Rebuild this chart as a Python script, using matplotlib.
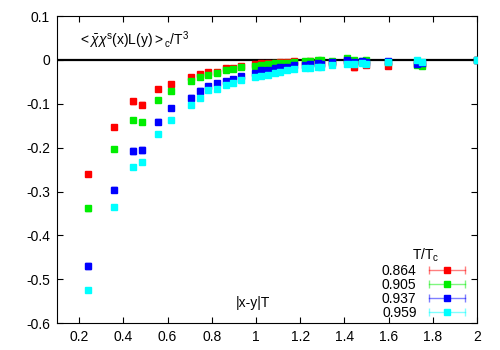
import numpy as np
import matplotlib
matplotlib.use('Agg')
import matplotlib.pyplot as plt
from matplotlib.lines import Line2D
from matplotlib.legend_handler import HandlerLine2D, HandlerTuple

plt.rcParams['font.family'] = ['Liberation Sans', 'DejaVu Sans']
plt.rcParams['mathtext.fontset'] = 'custom'
plt.rcParams['mathtext.rm'] = 'Liberation Sans'
plt.rcParams['mathtext.it'] = 'Liberation Sans:italic'

# distances |x-y|T
dist = [0.24, 0.357, 0.446, 0.484, 0.555, 0.617, 0.705, 0.746, 0.785, 0.826,
        0.865, 0.897, 0.934, 0.995, 1.025, 1.054, 1.084, 1.111, 1.141, 1.17,
        1.22, 1.246, 1.281, 1.293, 1.342, 1.413, 1.445, 1.48, 1.497, 1.599,
        1.73, 1.75, 2.0]

temps = ['0.864', '0.905', '0.937', '0.959']

corr_864 = [-0.260, -0.152, -0.094, -0.102, -0.067, -0.055, -0.038, -0.032, -0.027, -0.027,
            -0.019, -0.018, -0.013, -0.010, -0.008, -0.007, -0.006, -0.005, -0.004, -0.003,
            -0.004, -0.003, -0.008, -0.006, -0.007, -0.002, -0.017, -0.005, -0.012, -0.013,
            -0.008, -0.010, 0.0]
corr_905 = [-0.338, -0.202, -0.138, -0.142, -0.092, -0.070, -0.049, -0.039, -0.034, -0.030,
            -0.023, -0.021, -0.017, -0.014, -0.011, -0.009, -0.008, -0.006, -0.006, -0.004,
            -0.002, -0.002, 0.001, 0.0, -0.002, 0.004, 0.0, -0.002, -0.001, -0.004,
            -0.011, -0.013, 0.0]
corr_937 = [-0.470, -0.296, -0.208, -0.205, -0.141, -0.110, -0.086, -0.070, -0.059, -0.053,
            -0.048, -0.044, -0.036, -0.030, -0.024, -0.024, -0.019, -0.017, -0.015, -0.011,
            -0.011, -0.009, -0.008, -0.009, -0.004, 0.0, -0.004, -0.003, -0.004, -0.003,
            -0.009, -0.008, 0.0]
corr_959 = [-0.524, -0.336, -0.245, -0.233, -0.170, -0.136, -0.102, -0.087, -0.068, -0.067,
            -0.058, -0.053, -0.045, -0.038, -0.036, -0.034, -0.029, -0.027, -0.024, -0.021,
            -0.019, -0.019, -0.017, -0.017, -0.011, -0.009, -0.009, -0.008, -0.009, -0.004,
            0.001, -0.004, 0.0]

err_864 = [0.003, 0.003, 0.006, 0.005, 0.004, 0.004, 0.004, 0.004, 0.004, 0.004,
           0.004, 0.004, 0.004, 0.004, 0.004, 0.004, 0.004, 0.004, 0.004, 0.004,
           0.005, 0.005, 0.005, 0.005, 0.005, 0.005, 0.005, 0.005, 0.005, 0.005,
           0.005, 0.006, 0.004]
err_905 = [0.006, 0.004, 0.004, 0.003, 0.003, 0.003, 0.003, 0.003, 0.003, 0.003,
           0.003, 0.003, 0.003, 0.003, 0.003, 0.003, 0.003, 0.003, 0.003, 0.003,
           0.003, 0.003, 0.003, 0.003, 0.003, 0.003, 0.003, 0.003, 0.003, 0.003,
           0.003, 0.003, 0.003]
err_937 = [0.007, 0.006, 0.007, 0.007, 0.006, 0.005, 0.005, 0.005, 0.004, 0.004,
           0.004, 0.004, 0.004, 0.004, 0.004, 0.004, 0.004, 0.004, 0.004, 0.004,
           0.004, 0.004, 0.004, 0.004, 0.004, 0.004, 0.004, 0.004, 0.004, 0.004,
           0.004, 0.004, 0.004]
err_959 = [0.002, 0.002, 0.002, 0.002, 0.002, 0.002, 0.002, 0.002, 0.002, 0.002,
           0.002, 0.002, 0.002, 0.002, 0.002, 0.002, 0.002, 0.002, 0.002, 0.002,
           0.002, 0.002, 0.002, 0.002, 0.002, 0.002, 0.002, 0.002, 0.002, 0.002,
           0.002, 0.002, 0.002]

series = [corr_864, corr_905, corr_937, corr_959]
errors = [err_864, err_905, err_937, err_959]
colors = ['#ff0000', '#00ee00', '#0000ff', '#00ffff']

fig = plt.figure(figsize=(5, 3.5), dpi=100)
ax = fig.add_axes([0.114, 0.077, 0.84, 0.877])

ax.axhline(0, color='black', lw=1.6, zorder=1)

handles = []
hmap = {}
for vals, errs, c, t in zip(series, errors, colors, temps):
    ax.errorbar(dist, vals, yerr=errs, fmt='s', ms=5, color=c, mec=c,
                ecolor=c, elinewidth=1, capsize=2, capthick=1,
                alpha=1, zorder=3)
    bar = Line2D([], [], color=c, alpha=0.5, lw=1, marker='|', ms=6, mew=1)
    sq = Line2D([], [], ls='none', marker='s', ms=5, color=c)
    hmap[bar] = HandlerLine2D(numpoints=2)
    hmap[sq] = HandlerLine2D(numpoints=1)
    handles.append((bar, sq))

hmap[tuple] = HandlerTuple(ndivide=1, pad=0)
leg = ax.legend(handles, temps, handler_map=hmap, loc='lower right',
                bbox_to_anchor=(0.99, 0.0), frameon=False, markerfirst=False,
                title='T/T$_\\mathrm{c}$', fontsize=10, title_fontsize=10,
                handlelength=3.2, handletextpad=0.6, labelspacing=0.0,
                borderaxespad=0.0, borderpad=0.25)

ax.set_xlim(0.1, 2.0)
ax.set_ylim(-0.6, 0.1)
ax.set_xticks(np.arange(0.2, 2.01, 0.2))
ax.set_xticklabels(['0.2', '0.4', '0.6', '0.8', '1', '1.2', '1.4', '1.6', '1.8', '2'])
ax.set_yticks(np.arange(-0.6, 0.11, 0.1))
ax.set_yticklabels(['-0.6', '-0.5', '-0.4', '-0.3', '-0.2', '-0.1', '0', '0.1'])
ax.tick_params(direction='in', top=True, right=True, length=4, width=0.8,
               labelsize=10, pad=5)

ax.text(0.05, 0.92,
        r'$<\bar{\chi}\chi^{\mathrm{s}}\mathrm{(x)L(y)}>_{\mathrm{c}}/\mathrm{T}^3$',
        transform=ax.transAxes, fontsize=10, va='center', ha='left')
ax.text(0.425, 0.065, '|x-y|T', transform=ax.transAxes, fontsize=10,
        va='center', ha='left')

fig.savefig('out.png', dpi=100)
